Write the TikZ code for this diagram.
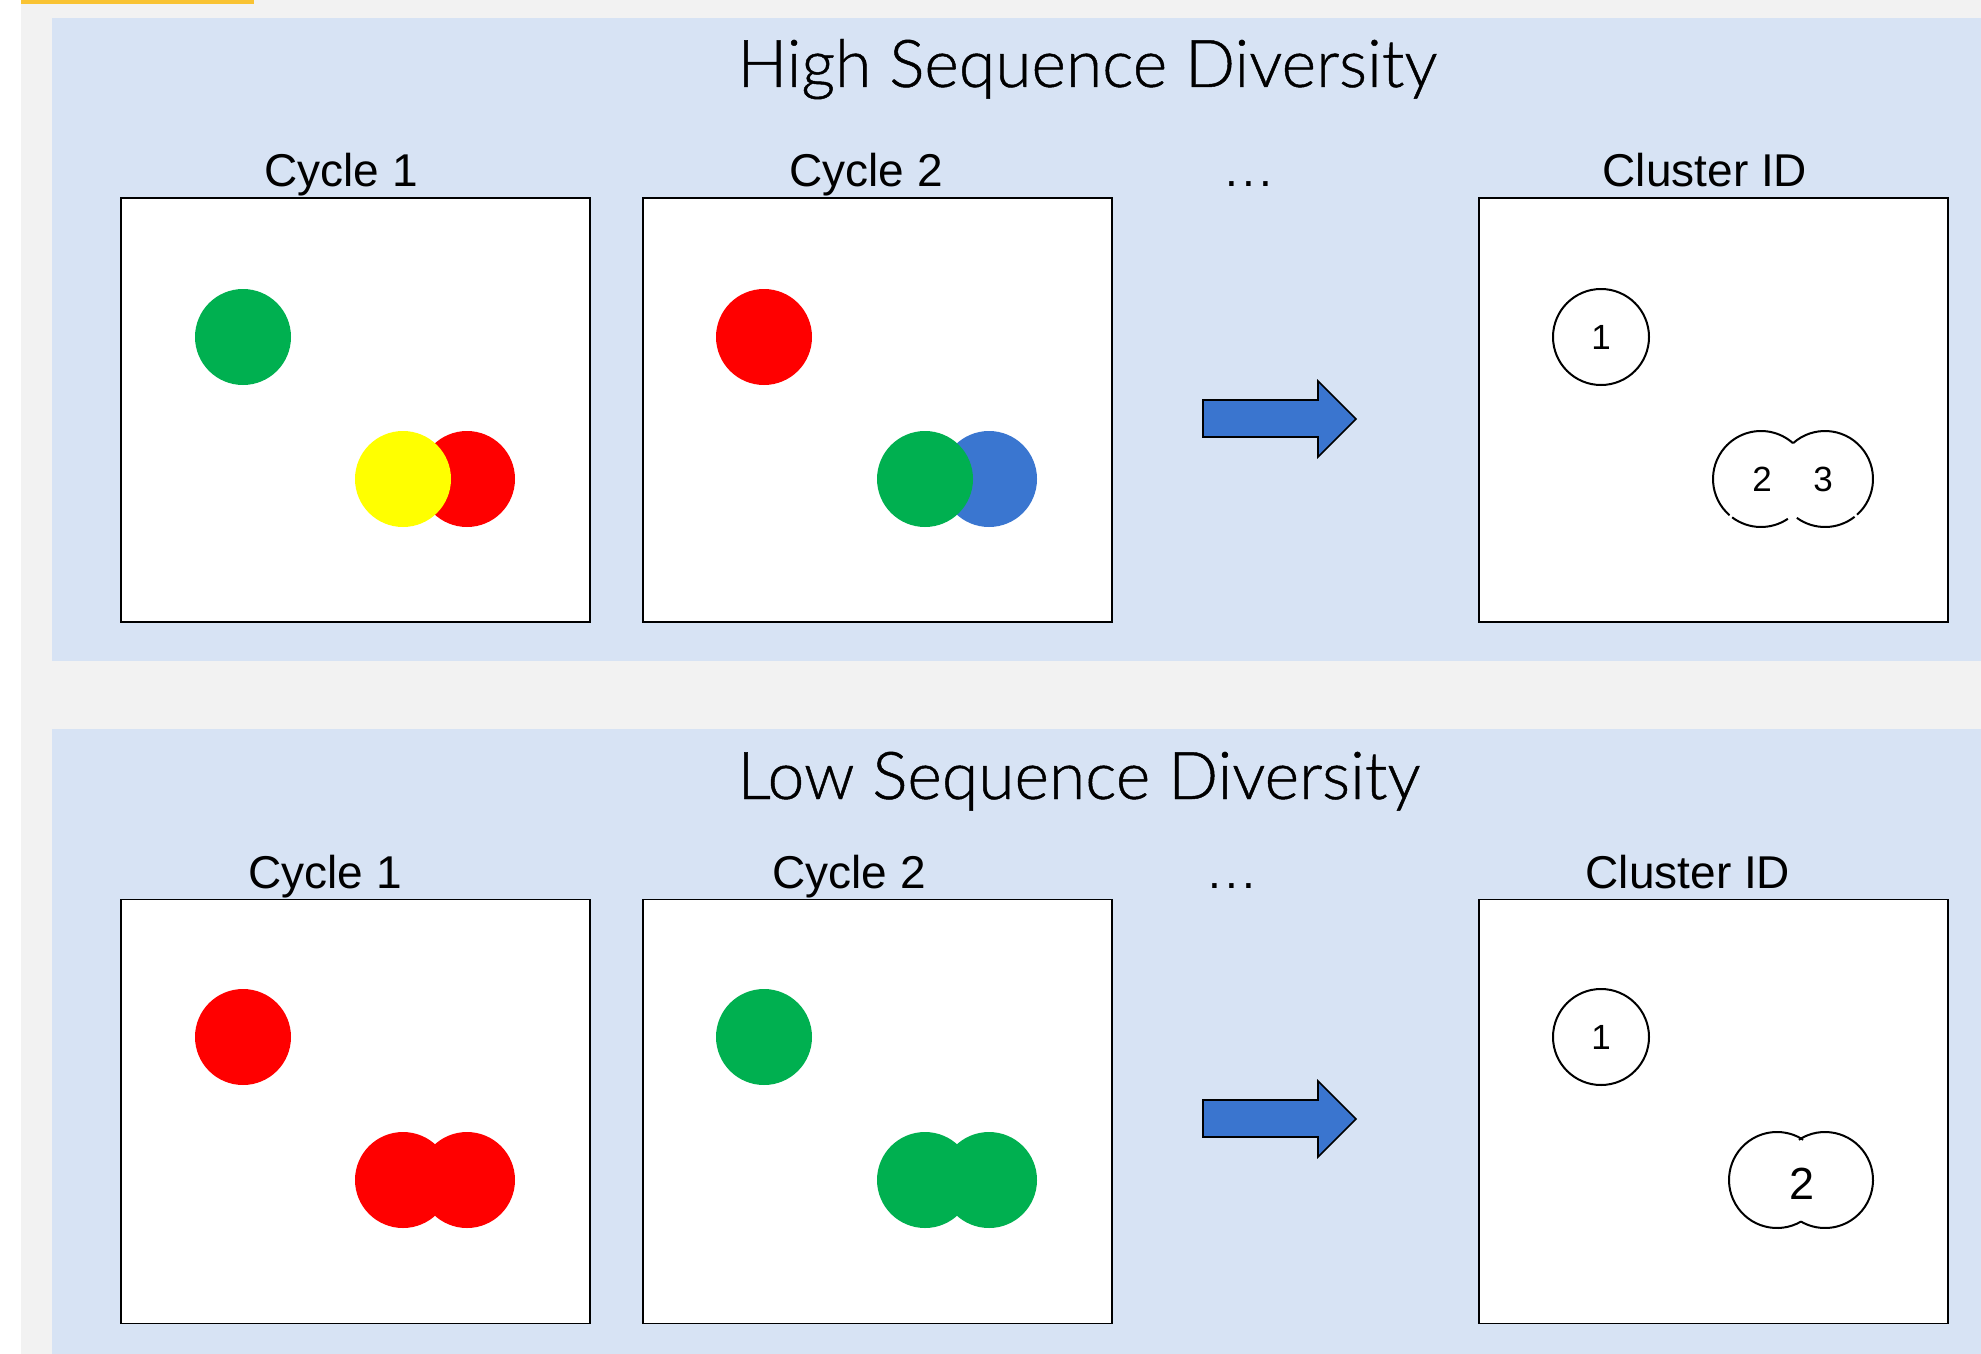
\documentclass[tikz,border=0pt]{standalone}
\usepackage{fontspec}
\setmainfont{Liberation Sans}
\newfontfamily\titlefont{Lato Light}[FakeBold=0.7]
\definecolor{pageback}{HTML}{F2F2F2}
\definecolor{panelblue}{HTML}{D7E3F4}
\definecolor{topbar}{HTML}{F9C333}
\definecolor{cgreen}{HTML}{00B050}
\definecolor{cred}{HTML}{FF0000}
\definecolor{cyellow}{HTML}{FFFF00}
\definecolor{cblue}{HTML}{3A76D0}
\definecolor{arrowblue}{HTML}{3A75CF}
\begin{document}
\begin{tikzpicture}[x=0.5pt,y=-0.5pt,
  slide/.style={draw=black, line width=0.9pt, fill=white, minimum width=234.5pt,
    minimum height=212pt, inner sep=0pt},
  spot/.style={circle, minimum size=48pt, inner sep=0pt, draw=none},
  cid/.style={circle, draw=black, line width=1pt, minimum size=48pt, inner sep=0pt,
    font=\fontsize{17.5}{20}\selectfont},
  digit/.style={inner sep=0pt, font=\fontsize{17.5}{20}\selectfont},
  bigdigit/.style={inner sep=0pt, font=\fontsize{22.5}{26}\selectfont},
  ring/.style={draw=black, line width=1pt},
  lbl/.style={anchor=base, inner sep=0pt, font=\fontsize{23}{26}\selectfont},
  heading/.style={anchor=base west, inner sep=0pt, font=\titlefont\fontsize{33}{38}\selectfont},
  flow/.style={fill=arrowblue, draw=black, line width=0.8pt, line join=miter}]

\useasboundingbox (0,0) rectangle (1981,1354);
% page background
\fill[white] (0,0) rectangle (1981,1354);
\fill[pageback] (21,0) rectangle (1981,1354);
\fill[topbar] (21,0) rectangle (254,4);

% ---------- upper panel ----------
\fill[panelblue] (52,18) rectangle (1981,661);
\node[heading] (titleA) at (737,87) {High Sequence Diversity};

\node[slide] (boxA1) at (355.5,410) {};
\node[slide] (boxA2) at (877.5,410) {};
\node[slide] (boxA3) at (1713.5,410) {};

\node[lbl] (labA1) at (341,186) {Cycle 1};
\node[lbl] (labA2) at (866,186) {Cycle 2};
\node[lbl] (dotsA) at (1249,186) {.\kern2pt.\kern2pt.};
\node[lbl] (labA3) at (1705,186) {Cluster ID};

\node[spot, fill=cgreen]  (a1g) at (243,337) {};
\node[spot, fill=cred]    (a1r) at (467,479) {};
\node[spot, fill=cyellow] (a1y) at (403,479) {};

\node[spot, fill=cred]    (a2r) at (764,337) {};
\node[spot, fill=cblue]   (a2b) at (989,479) {};
\node[spot, fill=cgreen]  (a2g) at (925,479) {};

\draw[flow] (1203,400) -- (1318,400) -- (1318,381) -- (1356,419) -- (1318,457)
  -- (1318,437) -- (1203,437) -- cycle;

\node[cid] (a3one) at (1601,337) {1};
% merged outline of clusters 2 and 3
\draw[ring] (1761,479) ++(56:48) arc[start angle=56, end angle=127, radius=48];
\draw[ring] (1761,479) ++(131:48) arc[start angle=131, end angle=311.6, radius=48];
\draw[ring] (1825,479) ++(228.4:48) arc[start angle=228.4, end angle=408, radius=48];
\draw[ring] (1825,479) ++(52:48) arc[start angle=52, end angle=126, radius=48];
\node[digit] (a3two) at (1762,479.5) {2};
\node[digit] (a3three) at (1823,479.5) {3};

% ---------- lower panel ----------
\fill[panelblue] (52,729) rectangle (1981,1354);
\node[heading] (titleB) at (737,799) {Low Sequence Diversity};

\node[slide] (boxB1) at (355.5,1111.5) {};
\node[slide] (boxB2) at (877.5,1111.5) {};
\node[slide] (boxB3) at (1713.5,1111.5) {};

\node[lbl] (labB1) at (325,888) {Cycle 1};
\node[lbl] (labB2) at (849,888) {Cycle 2};
\node[lbl] (dotsB) at (1232,888) {.\kern2pt.\kern2pt.};
\node[lbl] (labB3) at (1688,888) {Cluster ID};

\node[spot, fill=cred]   (b1r) at (243,1037) {};
\node[spot, fill=cred]   (b1s) at (403,1180) {};
\node[spot, fill=cred]   (b1t) at (467,1180) {};

\node[spot, fill=cgreen] (b2g) at (764,1037) {};
\node[spot, fill=cgreen] (b2h) at (925,1180) {};
\node[spot, fill=cgreen] (b2i) at (989,1180) {};

\draw[flow] (1203,1100) -- (1318,1100) -- (1318,1081) -- (1356,1119) -- (1318,1157)
  -- (1318,1137) -- (1203,1137) -- cycle;

\node[cid] (b3one) at (1601,1037) {1};
% merged outline of the single cluster 2
\draw[ring] (1777,1180) ++(60:48) arc[start angle=60, end angle=303, radius=48];
\draw[ring] (1825,1180) ++(237:48) arc[start angle=237, end angle=480, radius=48];
\node[bigdigit] (b3two) at (1802,1184) {2};

\end{tikzpicture}
\end{document}
